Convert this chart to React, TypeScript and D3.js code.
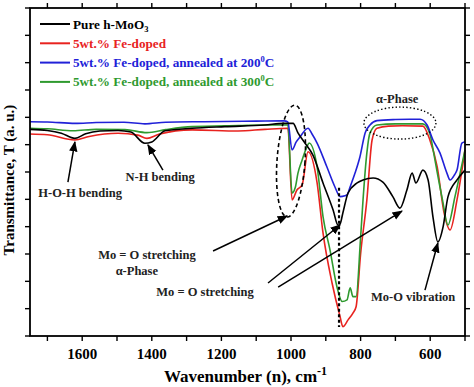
import * as d3 from "d3";

const WIDTH = 474;
const HEIGHT = 387;
const margin = { top: 8, right: 9, bottom: 51, left: 30 };
const width = WIDTH - margin.left - margin.right;
const height = HEIGHT - margin.top - margin.bottom;

// axis setup
const xDomain: [number, number] = [1750, 500];
const yDomain: [number, number] = [0, 12];
const xMajor = [1600, 1400, 1200, 1000, 800, 600];
const xMinor = [1700, 1500, 1300, 1100, 900, 700, 500];
const yTickValues = d3.range(0, 13);

// spectra: [wavenumber, transmittance (a.u.)]
const pureMoO3: [number, number][] = [
  [1750, 7.56], [1700, 7.52], [1660, 7.42], [1621, 7.23], [1590, 7.4], [1549, 7.5],
  [1497, 7.52], [1460, 7.46], [1420, 7.05], [1400, 7.1], [1362, 7.51], [1284, 7.6],
  [1190, 7.66], [1075, 7.72], [1020, 7.78], [994, 7.78], [980, 7.43], [960, 7.06],
  [937, 6.62], [908, 5.6], [879, 4.61], [865, 4.06], [859, 4.1], [851, 4.5],
  [836, 5.23], [810, 5.6], [793, 5.71], [764, 5.78], [736, 5.63], [707, 5.09],
  [687, 4.68], [667, 5.34], [652, 5.96], [641, 5.6], [621, 6.07], [606, 5.71],
  [592, 4.35], [578, 3.44], [563, 3.99], [549, 5.09], [523, 5.71], [500, 6.07],
];

const feDoped: [number, number][] = [
  [1750, 7.39], [1700, 7.36], [1621, 7.17], [1580, 7.3], [1497, 7.42], [1440, 7.35],
  [1414, 7.23], [1380, 7.38], [1284, 7.54], [1152, 7.5], [1075, 7.56], [1009, 7.6],
  [997, 4.98], [983, 5.34], [968, 5.53], [951, 6.74], [925, 5.6], [908, 3.77],
  [882, 1.94], [859, 0.71], [851, 0.34], [836, 0.59], [822, 0.84], [813, 1.07],
  [800, 3.0], [782, 4.98], [767, 7.17], [753, 7.6], [720, 7.68], [680, 7.69],
  [621, 7.68], [601, 7.17], [580, 6.2], [560, 4.5], [543, 3.88], [523, 4.98], [500, 6.81],
];

const annealed200: [number, number][] = [
  [1750, 7.84], [1700, 7.83], [1620, 7.78], [1560, 7.81], [1480, 7.82], [1420, 7.76],
  [1360, 7.82], [1250, 7.84], [1100, 7.86], [1020, 7.87], [1009, 7.83], [997, 6.81],
  [985, 7.1], [974, 7.29], [951, 7.6], [940, 7.4], [925, 7.06], [897, 6.19],
  [874, 5.46], [859, 5.1], [845, 5.13], [839, 5.16], [830, 5.46], [816, 5.96],
  [802, 6.55], [787, 7.43], [773, 7.72], [753, 7.88], [700, 7.92], [660, 7.93],
  [629, 7.93], [609, 7.72], [592, 7.17], [572, 6.7], [552, 5.96], [543, 5.71],
  [530, 5.9], [523, 6.07], [509, 7.06], [500, 7.11],
];

const annealed300: [number, number][] = [
  [1750, 7.6], [1700, 7.58], [1626, 7.51], [1560, 7.56], [1477, 7.55], [1414, 7.44],
  [1360, 7.55], [1284, 7.66], [1150, 7.7], [1075, 7.72], [1009, 7.72], [997, 5.23],
  [988, 5.42], [980, 5.96], [968, 6.44], [954, 6.93], [948, 7.06], [925, 6.19],
  [908, 4.37], [888, 3.15], [868, 1.8], [853, 1.26], [839, 1.32], [830, 1.76],
  [822, 1.44], [813, 1.44], [800, 3.6], [793, 4.98], [782, 6.7], [773, 7.43],
  [753, 7.72], [700, 7.76], [621, 7.76], [601, 7.4], [590, 6.7], [580, 6.0],
  [565, 5.0], [549, 4.06], [529, 5.09], [514, 5.96], [500, 6.81],
];

const series = [
  { name: "5wt.% Fe-doped", data: feDoped, color: "#e8231f" },
  { name: "5wt.% Fe-doped, annealed at 300", data: annealed300, color: "#2f9a2f" },
  { name: "5wt.% Fe-doped, annealed at 200", data: annealed200, color: "#2121d8" },
  { name: "Pure h-MoO", data: pureMoO3, color: "#000000" },
];

// annotation text and arrows, in data units
const labels = [
  { text: "H-O-H bending", x: 1606, y: 5.09 },
  { text: "N-H bending", x: 1376, y: 5.67 },
  { text: "Mo = O stretching", x: 1414, y: 2.8 },
  { text: "\u03b1-Phase", x: 1443, y: 2.22 },
  { text: "Mo = O stretching", x: 1247, y: 1.46 },
  { text: "Mo-O vibration", x: 649, y: 1.28 },
  { text: "\u03b1-Phase", x: 695, y: 8.53 },
];

const arrows: [number, number, number, number][] = [
  [1641, 5.63, 1621, 7.1],
  [1368, 6.07, 1411, 6.99],
  [1224, 3.11, 1011, 4.39],
  [1066, 1.94, 859, 4.06],
  [1037, 1.79, 681, 4.57],
  [615, 1.68, 578, 3.4],
];

const font = "'Liberation Serif', 'Times New Roman', serif";

export default function App() {
  const x = d3.scaleLinear().domain(xDomain).range([0, width]);
  const y = d3.scaleLinear().domain(yDomain).range([height, 0]);
  const line = d3
    .line<[number, number]>()
    .x((d) => x(d[0]))
    .y((d) => y(d[1]))
    .curve(d3.curveMonotoneX);

  const legendRows = [
    { color: "#000000", main: "Pure h-MoO", sub: "3" },
    { color: "#e8231f", main: "5wt.% Fe-doped" },
    { color: "#2121d8", main: "5wt.% Fe-doped, annealed at 200", sup: "0", tail: "C" },
    { color: "#2f9a2f", main: "5wt.% Fe-doped, annealed at 300", sup: "0", tail: "C" },
  ];

  return (
    <svg width={WIDTH} height={HEIGHT} style={{ position: "absolute", left: 0, top: 0 }}>
      <defs>
        <marker id="arr" viewBox="0 0 10 10" refX="9" refY="5" markerWidth="7" markerHeight="7" orient="auto">
          <path d="M0,1 L10,5 L0,9 Z" fill="#000" />
        </marker>
      </defs>
      <g transform={`translate(${margin.left},${margin.top})`} fontFamily={font} fontWeight="bold">
        {/* curves */}
        {series.map((s) => (
          <path key={s.name} d={line(s.data) ?? ""} fill="none" stroke={s.color} strokeWidth={1.6} />
        ))}

        {/* dotted marker at 862 */}
        <line x1={x(862)} x2={x(862)} y1={y(5.42)} y2={y(0.33)} stroke="#000" strokeWidth={2.2} strokeDasharray="3 2.5" />

        {/* ellipses */}
        <ellipse cx={x(1000)} cy={y(6.4)} rx={14} ry={56} fill="none" stroke="#000" strokeWidth={1.6} strokeDasharray="4 3" transform={`rotate(4 ${x(1000)} ${y(6.4)})`} />
        <ellipse cx={x(687)} cy={y(7.79)} rx={36} ry={16} fill="none" stroke="#000" strokeWidth={1.4} strokeDasharray="1.4 2.2" />

        {/* arrows */}
        {arrows.map((a, i) => (
          <line key={i} x1={x(a[0])} y1={y(a[1])} x2={x(a[2])} y2={y(a[3])} stroke="#000" strokeWidth={1.5} markerEnd="url(#arr)" />
        ))}

        {labels.map((l, i) => (
          <text key={i} x={x(l.x)} y={y(l.y)} textAnchor="middle" fontSize={12.5} fill="#222">
            {l.text}
          </text>
        ))}

        {/* legend */}
        {legendRows.map((r, i) => (
          <g key={i} transform={`translate(10,${16 + i * 19.3})`}>
            <line x1={0} x2={30} y1={0} y2={0} stroke={r.color} strokeWidth={2} />
            <text x={33} y={4.5} fontSize={13.2} fill={r.color}>
              {r.main}
              {r.sub && <tspan dy={3} fontSize={8.5}>{r.sub}</tspan>}
              {r.sup && <tspan dy={-5} fontSize={8.5}>{r.sup}</tspan>}
              {r.tail && <tspan dy={5}>{r.tail}</tspan>}
            </text>
          </g>
        ))}

        {/* frame */}
        <rect x={0} y={0} width={width} height={height} fill="none" stroke="#000" strokeWidth={1.8} />

        {/* x ticks bottom and top */}
        {xMajor.concat(xMinor).map((t) => (
          <g key={t}>
            <line x1={x(t)} x2={x(t)} y1={height} y2={height + 5} stroke="#000" strokeWidth={1.4} />
            <line x1={x(t)} x2={x(t)} y1={0} y2={-5} stroke="#000" strokeWidth={1.4} />
          </g>
        ))}
        {xMajor.map((t) => (
          <text key={t} x={x(t)} y={height + 23} textAnchor="middle" fontSize={15} fill="#000">
            {t}
          </text>
        ))}

        {/* y ticks both sides */}
        {yTickValues.map((t) => (
          <g key={t}>
            <line x1={-5} x2={0} y1={y(t)} y2={y(t)} stroke="#000" strokeWidth={1.4} />
            <line x1={width} x2={width + 5} y1={y(t)} y2={y(t)} stroke="#000" strokeWidth={1.4} />
          </g>
        ))}

        {/* axis titles */}
        <text x={width / 2 - 2} y={height + 46} textAnchor="middle" fontSize={17} fill="#000">
          Wavenumber (n), cm<tspan dy={-7} fontSize={12}>-1</tspan>
        </text>
        <text transform={`translate(-16,${y(5.7)}) rotate(-90)`} textAnchor="middle" fontSize={15} fill="#000">
          Transmittance, T (a. u.)
        </text>
      </g>
    </svg>
  );
}
